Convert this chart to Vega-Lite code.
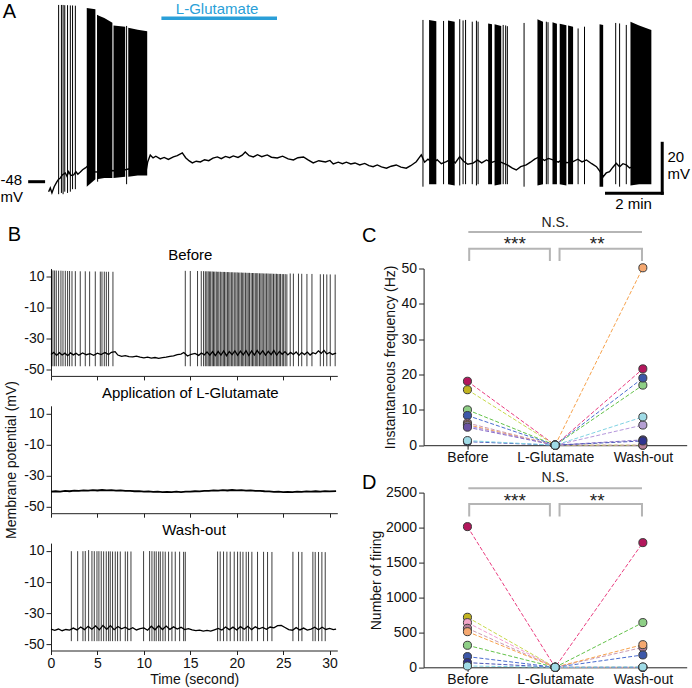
{
"$schema": "https://vega.github.io/schema/vega-lite/v6.json",
"padding": 0,
"background": "white",
"config": {
  "view": {"stroke": null},
  "font": "Liberation Sans",
  "axis": {"domainColor": "#222", "tickColor": "#222", "labelColor": "#111", "labelFontSize": 14, "titleFontSize": 14, "titleFontWeight": "normal", "titleColor": "#111", "grid": false, "labelFont": "Liberation Sans", "titleFont": "Liberation Sans", "tickSize": 5, "labelPadding": 2, "labelOverlap": false, "labelFlush": false},
  "text": {"font": "Liberation Sans"}
},
"datasets": {
  "aBase": [{"t":0.00,"v":-52.0},{"t":0.06,"v":-50.5},{"t":0.12,"v":-52.5},{"t":0.2,"v":-50.0},{"t":0.3,"v":-48.0},{"t":0.36,"v":-47.0},{"t":0.42,"v":-46.5},{"t":0.5,"v":-45.2},{"t":0.6,"v":-44.5},{"t":0.66,"v":-45.8},{"t":0.72,"v":-44.0},{"t":0.8,"v":-45.5},{"t":0.9,"v":-45.3},{"t":0.98,"v":-44.0},{"t":1.05,"v":-45.0},{"t":1.14,"v":-44.1},{"t":1.22,"v":-43.2},{"t":1.32,"v":-42.5},{"t":1.44,"v":-41.3},{"t":1.5,"v":-44},{"t":1.86,"v":-44.1},{"t":2.2,"v":-43.5},{"t":2.57,"v":-43.7},{"t":2.9,"v":-42.8},{"t":3.29,"v":-43.3},{"t":3.5,"v":-43.7},{"t":3.56,"v":-40.0},{"t":3.65,"v":-37.3},{"t":3.75,"v":-38.5},{"t":3.85,"v":-37.8},{"t":4.01,"v":-38.9},{"t":4.15,"v":-38.3},{"t":4.3,"v":-39.1},{"t":4.48,"v":-38.1},{"t":4.62,"v":-37.6},{"t":4.8,"v":-36.5},{"t":4.92,"v":-38.4},{"t":5.05,"v":-39.7},{"t":5.16,"v":-40.5},{"t":5.3,"v":-39.8},{"t":5.45,"v":-40.1},{"t":5.6,"v":-39.2},{"t":5.75,"v":-39.6},{"t":5.9,"v":-38.6},{"t":6.06,"v":-38.1},{"t":6.2,"v":-38.8},{"t":6.35,"v":-37.9},{"t":6.5,"v":-38.4},{"t":6.63,"v":-37.7},{"t":6.8,"v":-38.3},{"t":6.95,"v":-37.4},{"t":7.06,"v":-36.1},{"t":7.2,"v":-37.6},{"t":7.35,"v":-38.1},{"t":7.5,"v":-37.2},{"t":7.65,"v":-38.0},{"t":7.85,"v":-37.3},{"t":8.0,"v":-38.2},{"t":8.21,"v":-38.5},{"t":8.4,"v":-37.8},{"t":8.6,"v":-38.9},{"t":8.79,"v":-39.3},{"t":8.95,"v":-38.4},{"t":9.15,"v":-38.1},{"t":9.3,"v":-39.2},{"t":9.5,"v":-40.5},{"t":9.7,"v":-39.6},{"t":9.94,"v":-40.1},{"t":10.1,"v":-39.5},{"t":10.22,"v":-40.9},{"t":10.4,"v":-40.2},{"t":10.55,"v":-40.8},{"t":10.69,"v":-40.2},{"t":10.85,"v":-40.9},{"t":11.0,"v":-40.5},{"t":11.17,"v":-41.3},{"t":11.35,"v":-40.7},{"t":11.5,"v":-41.6},{"t":11.65,"v":-42.0},{"t":11.8,"v":-41.3},{"t":11.95,"v":-42.1},{"t":12.13,"v":-42.6},{"t":12.3,"v":-41.8},{"t":12.48,"v":-41.3},{"t":12.65,"v":-42.2},{"t":12.84,"v":-42.6},{"t":13.0,"v":-41.6},{"t":13.2,"v":-40.0},{"t":13.3,"v":-38.5},{"t":13.38,"v":-37.3},{"t":13.5,"v":-40.2},{"t":13.62,"v":-39.0},{"t":13.8,"v":-40.6},{"t":13.95,"v":-39.2},{"t":14.1,"v":-40.8},{"t":14.28,"v":-40.0},{"t":14.45,"v":-39.0},{"t":14.6,"v":-40.5},{"t":14.76,"v":-38.0},{"t":14.9,"v":-39.8},{"t":15.05,"v":-41.0},{"t":15.24,"v":-40.6},{"t":15.4,"v":-39.4},{"t":15.55,"v":-40.5},{"t":15.72,"v":-39.3},{"t":15.9,"v":-40.3},{"t":16.1,"v":-39.6},{"t":16.32,"v":-40.6},{"t":16.5,"v":-41.5},{"t":16.65,"v":-42.6},{"t":16.79,"v":-43.3},{"t":16.95,"v":-42.0},{"t":17.15,"v":-41.3},{"t":17.3,"v":-40.2},{"t":17.45,"v":-39.0},{"t":17.63,"v":-38.0},{"t":17.8,"v":-39.5},{"t":17.95,"v":-38.7},{"t":18.11,"v":-39.3},{"t":18.3,"v":-40.2},{"t":18.45,"v":-39.1},{"t":18.6,"v":-40.4},{"t":18.83,"v":-40.0},{"t":19.0,"v":-39.0},{"t":19.15,"v":-40.1},{"t":19.31,"v":-39.3},{"t":19.5,"v":-40.8},{"t":19.67,"v":-42.0},{"t":19.8,"v":-44.0},{"t":19.91,"v":-46.0},{"t":20.02,"v":-44.5},{"t":20.14,"v":-44.0},{"t":20.26,"v":-42.2},{"t":20.38,"v":-40.6},{"t":20.5,"v":-42.0},{"t":20.62,"v":-40.8},{"t":20.74,"v":-41.3},{"t":20.86,"v":-42.5},{"t":20.98,"v":-42.0},{"t":21.2,"v":-41.0},{"t":21.4,"v":-41.8},{"t":21.58,"v":-40.6}],
  "aSpk": [{"t":0.36,"hi":22.7,"lo":-53},{"t":0.46,"hi":22.7,"lo":-52.5},{"t":0.52,"hi":22.7,"lo":-53},{"t":0.58,"hi":22.6,"lo":-52},{"t":0.68,"hi":22.6,"lo":-52.5},{"t":0.78,"hi":22.5,"lo":-52},{"t":0.86,"hi":22.5,"lo":-51},{"t":0.96,"hi":22.4,"lo":-51},{"t":1.76,"hi":18.7,"lo":-48},{"t":2.8,"hi":14.3,"lo":-49},{"t":13.44,"hi":16.7,"lo":-50},{"t":14.18,"hi":16.3,"lo":-49},{"t":14.76,"hi":17.0,"lo":-49.5},{"t":14.88,"hi":16.5,"lo":-49},{"t":14.97,"hi":16.7,"lo":-49},{"t":15.21,"hi":16.0,"lo":-49},{"t":15.36,"hi":16.4,"lo":-49.5},{"t":15.42,"hi":16.0,"lo":-49},{"t":16.32,"hi":14.7,"lo":-49},{"t":16.41,"hi":14.5,"lo":-49},{"t":16.47,"hi":14.2,"lo":-49},{"t":17.07,"hi":15.5,"lo":-50},{"t":17.87,"hi":16.0,"lo":-49},{"t":17.93,"hi":15.8,"lo":-49},{"t":19.01,"hi":13.3,"lo":-49},{"t":19.24,"hi":14.0,"lo":-49},{"t":20.36,"hi":15.5,"lo":-49},{"t":20.5,"hi":15.3,"lo":-50},{"t":20.74,"hi":14.7,"lo":-49}],
  "aBlk": [{"b":"a1","t":1.37,"hi":21.5,"lo":-50},{"b":"a1","t":1.68,"hi":21.0,"lo":-47},{"b":"a2","t":1.74,"hi":18.7,"lo":-47},{"b":"a2","t":2.0,"hi":17.5,"lo":-46.5},{"b":"a2","t":2.29,"hi":15.6,"lo":-46.5},{"b":"a3","t":2.33,"hi":14.5,"lo":-46.5},{"b":"a3","t":2.75,"hi":14.0,"lo":-46},{"b":"a4","t":2.86,"hi":13.6,"lo":-46},{"b":"a4","t":3.2,"hi":12.8,"lo":-45.5},{"b":"a4","t":3.54,"hi":12.2,"lo":-45.5},{"b":"b1","t":13.66,"hi":16.7,"lo":-49},{"b":"b1","t":13.92,"hi":16.2,"lo":-49},{"b":"b2","t":14.34,"hi":16.5,"lo":-49},{"b":"b2","t":14.58,"hi":16.0,"lo":-49.5},{"b":"b3","t":15.78,"hi":15.3,"lo":-49},{"b":"b3","t":15.92,"hi":15.0,"lo":-49},{"b":"b4","t":16.01,"hi":15.0,"lo":-49.5},{"b":"b4","t":16.25,"hi":14.3,"lo":-49},{"b":"b5","t":17.55,"hi":17.0,"lo":-49.5},{"b":"b5","t":17.75,"hi":16.0,"lo":-49},{"b":"b6","t":18.09,"hi":15.8,"lo":-49},{"b":"b6","t":18.25,"hi":15.2,"lo":-49},{"b":"b7","t":18.35,"hi":15.2,"lo":-49},{"b":"b7","t":18.59,"hi":14.6,"lo":-49.5},{"b":"b8","t":18.65,"hi":14.5,"lo":-49},{"b":"b8","t":18.83,"hi":14.0,"lo":-49},{"b":"b9","t":19.78,"hi":15.0,"lo":-50},{"b":"b9","t":19.91,"hi":14.7,"lo":-50},{"b":"b10","t":20.89,"hi":16.0,"lo":-49.5},{"b":"b10","t":21.2,"hi":14.5,"lo":-49},{"b":"b10","t":21.64,"hi":12.7,"lo":-49}],
  "aBarsK": [{"t":20.03,"v":-52.64,"t2":22.03,"v2":-52.64},{"t":22.03,"v":-32.64,"t2":22.03,"v2":-52.64},{"t":-0.68,"v":-48,"t2":-0.18,"v2":-48}],
  "aBarsB": [{"t":4.05,"v":17.4,"t2":8.2,"v2":17.4}],
  "bBeforeBase": [{"t":0.0,"v":-40.2},{"t":0.3,"v":-38.9},{"t":0.6,"v":-40.8},{"t":0.9,"v":-39.1},{"t":1.2,"v":-40.6},{"t":1.5,"v":-39.4},{"t":1.8,"v":-41.0},{"t":2.1,"v":-39.2},{"t":2.4,"v":-40.5},{"t":2.7,"v":-39.5},{"t":3.0,"v":-40.7},{"t":3.4,"v":-39.3},{"t":3.8,"v":-40.4},{"t":4.2,"v":-39.7},{"t":4.6,"v":-40.8},{"t":5.0,"v":-39.4},{"t":5.4,"v":-40.3},{"t":5.8,"v":-39.0},{"t":6.2,"v":-40.2},{"t":6.5,"v":-38.8},{"t":6.9,"v":-38.4},{"t":7.2,"v":-40.6},{"t":7.6,"v":-41.5},{"t":8.0,"v":-41.0},{"t":8.4,"v":-41.6},{"t":8.8,"v":-41.8},{"t":9.2,"v":-41.3},{"t":9.6,"v":-42.0},{"t":10.0,"v":-42.4},{"t":10.4,"v":-41.9},{"t":10.8,"v":-42.6},{"t":11.2,"v":-42.2},{"t":11.6,"v":-42.7},{"t":12.0,"v":-42.3},{"t":12.4,"v":-42.0},{"t":12.8,"v":-41.4},{"t":13.2,"v":-41.2},{"t":13.6,"v":-40.3},{"t":14.0,"v":-40.0},{"t":14.3,"v":-39.0},{"t":14.7,"v":-41.2},{"t":15.1,"v":-40.1},{"t":15.5,"v":-39.6},{"t":15.9,"v":-40.8},{"t":16.2,"v":-39.3},{"t":16.5,"v":-40.5},{"t":16.8,"v":-38.6},{"t":17.1,"v":-40.7},{"t":17.4,"v":-38.4},{"t":17.7,"v":-40.9},{"t":18.0,"v":-38.2},{"t":18.3,"v":-40.6},{"t":18.6,"v":-38.0},{"t":18.9,"v":-41.0},{"t":19.2,"v":-38.3},{"t":19.5,"v":-40.4},{"t":19.8,"v":-37.9},{"t":20.1,"v":-40.8},{"t":20.4,"v":-38.1},{"t":20.7,"v":-40.5},{"t":21.0,"v":-37.8},{"t":21.3,"v":-40.9},{"t":21.6,"v":-38.0},{"t":21.9,"v":-40.6},{"t":22.2,"v":-37.6},{"t":22.5,"v":-40.2},{"t":22.8,"v":-37.9},{"t":23.1,"v":-40.7},{"t":23.4,"v":-38.2},{"t":23.7,"v":-40.4},{"t":24.0,"v":-37.7},{"t":24.3,"v":-40.6},{"t":24.6,"v":-38.3},{"t":24.9,"v":-40.1},{"t":25.2,"v":-38.4},{"t":25.5,"v":-40.5},{"t":25.8,"v":-38.9},{"t":26.1,"v":-40.2},{"t":26.4,"v":-38.6},{"t":26.7,"v":-40.8},{"t":27.0,"v":-39.0},{"t":27.3,"v":-40.3},{"t":27.6,"v":-38.7},{"t":27.9,"v":-40.6},{"t":28.2,"v":-39.1},{"t":28.5,"v":-39.8},{"t":28.8,"v":-37.9},{"t":29.1,"v":-39.5},{"t":29.4,"v":-37.6},{"t":29.7,"v":-39.9},{"t":30.0,"v":-38.9},{"t":30.3,"v":-40.2},{"t":30.7,"v":-39.4}],
  "bBeforeSpk": [{"t":0.05,"hi":13.8},{"t":0.21,"hi":13.8},{"t":0.39,"hi":13.7},{"t":0.57,"hi":13.7},{"t":0.82,"hi":13.6},{"t":1.07,"hi":13.6},{"t":1.29,"hi":13.5},{"t":1.54,"hi":13.5},{"t":1.79,"hi":13.4},{"t":2.0,"hi":13.4},{"t":2.26,"hi":13.3},{"t":2.62,"hi":13.3},{"t":3.15,"hi":13.2},{"t":3.69,"hi":13.2},{"t":4.16,"hi":13.1},{"t":4.77,"hi":13.1},{"t":5.31,"hi":13.0},{"t":5.49,"hi":13.0},{"t":5.74,"hi":13.0},{"t":5.96,"hi":12.9},{"t":6.2,"hi":12.9},{"t":6.67,"hi":12.9},{"t":14.46,"hi":13.5},{"t":15.0,"hi":13.4},{"t":15.78,"hi":13.4},{"t":16.18,"hi":13.3},{"t":16.43,"hi":13.3},{"t":16.62,"hi":13.2},{"t":16.78,"hi":13.2},{"t":16.93,"hi":13.2},{"t":17.08,"hi":13.1},{"t":17.2,"hi":13.1},{"t":17.36,"hi":13.1},{"t":17.5,"hi":13.0},{"t":17.64,"hi":13.0},{"t":17.8,"hi":13.0},{"t":17.95,"hi":12.9},{"t":18.08,"hi":12.9},{"t":18.24,"hi":12.9},{"t":18.4,"hi":12.8},{"t":18.55,"hi":12.8},{"t":18.68,"hi":12.8},{"t":18.84,"hi":12.7},{"t":19.0,"hi":12.7},{"t":19.14,"hi":12.7},{"t":19.28,"hi":12.6},{"t":19.45,"hi":12.6},{"t":19.58,"hi":12.6},{"t":19.74,"hi":12.5},{"t":19.9,"hi":12.5},{"t":20.05,"hi":12.5},{"t":20.18,"hi":12.4},{"t":20.34,"hi":12.4},{"t":20.5,"hi":12.4},{"t":20.64,"hi":12.3},{"t":20.78,"hi":12.3},{"t":20.95,"hi":12.3},{"t":21.1,"hi":12.2},{"t":21.24,"hi":12.2},{"t":21.38,"hi":12.2},{"t":21.55,"hi":12.1},{"t":21.7,"hi":12.1},{"t":21.84,"hi":12.1},{"t":22.0,"hi":12.0},{"t":22.15,"hi":12.0},{"t":22.28,"hi":12.0},{"t":22.45,"hi":11.9},{"t":22.6,"hi":11.9},{"t":22.74,"hi":11.9},{"t":22.9,"hi":11.8},{"t":23.05,"hi":11.8},{"t":23.2,"hi":11.8},{"t":23.36,"hi":11.8},{"t":23.5,"hi":11.7},{"t":23.66,"hi":11.7},{"t":23.8,"hi":11.7},{"t":23.96,"hi":11.6},{"t":24.12,"hi":11.6},{"t":24.28,"hi":11.6},{"t":24.42,"hi":11.5},{"t":24.58,"hi":11.5},{"t":24.72,"hi":11.5},{"t":24.9,"hi":11.4},{"t":25.05,"hi":11.4},{"t":25.22,"hi":11.4},{"t":25.4,"hi":11.3},{"t":25.76,"hi":11.8},{"t":26.1,"hi":11.7},{"t":26.65,"hi":11.7},{"t":27.0,"hi":11.6},{"t":27.56,"hi":11.5},{"t":28.1,"hi":11.5},{"t":29.0,"hi":11.3},{"t":29.35,"hi":11.3},{"t":29.7,"hi":11.2},{"t":30.07,"hi":11.2},{"t":30.6,"hi":11.1}],
  "bMidBase": [{"t":0.0,"v":-40.2},{"t":0.5,"v":-39.9},{"t":1.0,"v":-40.1},{"t":1.5,"v":-39.7},{"t":2.0,"v":-39.9},{"t":2.5,"v":-39.5},{"t":3.0,"v":-39.7},{"t":3.5,"v":-39.3},{"t":4.0,"v":-39.5},{"t":4.5,"v":-39.2},{"t":5.0,"v":-39.4},{"t":5.5,"v":-39.1},{"t":6.0,"v":-39.3},{"t":6.5,"v":-39.2},{"t":7.0,"v":-39.5},{"t":7.5,"v":-39.4},{"t":8.0,"v":-39.7},{"t":8.5,"v":-39.6},{"t":9.0,"v":-39.9},{"t":9.5,"v":-39.8},{"t":10.0,"v":-40.1},{"t":10.5,"v":-40.0},{"t":11.0,"v":-40.3},{"t":11.5,"v":-40.2},{"t":12.0,"v":-40.4},{"t":12.5,"v":-40.3},{"t":13.0,"v":-40.5},{"t":13.5,"v":-40.2},{"t":14.0,"v":-40.4},{"t":14.5,"v":-40.1},{"t":15.0,"v":-40.2},{"t":15.5,"v":-39.9},{"t":16.0,"v":-40.0},{"t":16.5,"v":-39.6},{"t":17.0,"v":-39.7},{"t":17.5,"v":-39.4},{"t":18.0,"v":-39.5},{"t":18.5,"v":-39.2},{"t":19.0,"v":-39.4},{"t":19.5,"v":-39.1},{"t":20.0,"v":-39.3},{"t":20.5,"v":-39.2},{"t":21.0,"v":-39.5},{"t":21.5,"v":-39.4},{"t":22.0,"v":-39.7},{"t":22.5,"v":-39.6},{"t":23.0,"v":-39.9},{"t":23.5,"v":-40.0},{"t":24.0,"v":-40.3},{"t":24.5,"v":-40.2},{"t":25.0,"v":-40.5},{"t":25.5,"v":-40.3},{"t":26.0,"v":-40.5},{"t":26.5,"v":-40.2},{"t":27.0,"v":-40.3},{"t":27.5,"v":-40.0},{"t":28.0,"v":-40.2},{"t":28.5,"v":-39.9},{"t":29.0,"v":-40.1},{"t":29.5,"v":-39.8},{"t":30.0,"v":-40.0},{"t":30.7,"v":-39.8}],
  "bWashBase": [{"t":0.0,"v":-40.3},{"t":0.4,"v":-41.0},{"t":0.8,"v":-40.2},{"t":1.2,"v":-41.3},{"t":1.6,"v":-40.5},{"t":2.0,"v":-40.9},{"t":2.4,"v":-39.6},{"t":2.8,"v":-40.8},{"t":3.2,"v":-38.9},{"t":3.6,"v":-40.6},{"t":4.0,"v":-38.5},{"t":4.4,"v":-40.3},{"t":4.8,"v":-38.2},{"t":5.2,"v":-40.7},{"t":5.6,"v":-37.9},{"t":6.0,"v":-40.4},{"t":6.4,"v":-38.0},{"t":6.8,"v":-40.6},{"t":7.2,"v":-38.6},{"t":7.6,"v":-40.1},{"t":8.0,"v":-39.0},{"t":8.4,"v":-40.5},{"t":8.8,"v":-39.4},{"t":9.2,"v":-40.8},{"t":9.6,"v":-40.0},{"t":10.0,"v":-39.5},{"t":10.4,"v":-41.0},{"t":10.8,"v":-38.4},{"t":11.2,"v":-40.7},{"t":11.6,"v":-38.1},{"t":12.0,"v":-40.5},{"t":12.4,"v":-38.3},{"t":12.8,"v":-40.4},{"t":13.2,"v":-38.8},{"t":13.6,"v":-40.2},{"t":14.0,"v":-39.1},{"t":14.4,"v":-40.6},{"t":14.8,"v":-40.0},{"t":15.2,"v":-40.8},{"t":15.6,"v":-41.2},{"t":16.0,"v":-40.9},{"t":16.4,"v":-41.5},{"t":16.8,"v":-41.1},{"t":17.2,"v":-41.6},{"t":17.6,"v":-40.7},{"t":18.0,"v":-39.8},{"t":18.4,"v":-40.9},{"t":18.8,"v":-38.9},{"t":19.2,"v":-40.6},{"t":19.6,"v":-39.0},{"t":20.0,"v":-40.8},{"t":20.4,"v":-38.7},{"t":20.8,"v":-40.3},{"t":21.2,"v":-38.5},{"t":21.6,"v":-40.6},{"t":22.0,"v":-38.8},{"t":22.4,"v":-40.1},{"t":22.8,"v":-39.2},{"t":23.2,"v":-40.4},{"t":23.6,"v":-38.9},{"t":24.0,"v":-39.4},{"t":24.4,"v":-38.0},{"t":24.8,"v":-37.9},{"t":25.2,"v":-39.2},{"t":25.6,"v":-40.6},{"t":26.0,"v":-41.0},{"t":26.4,"v":-39.3},{"t":26.8,"v":-40.8},{"t":27.2,"v":-39.6},{"t":27.6,"v":-40.9},{"t":28.0,"v":-40.2},{"t":28.4,"v":-39.0},{"t":28.8,"v":-40.7},{"t":29.2,"v":-39.1},{"t":29.6,"v":-40.5},{"t":30.0,"v":-39.8},{"t":30.4,"v":-40.6},{"t":30.7,"v":-40.2}],
  "bWashSpk": [{"t":2.19,"hi":9.8},{"t":2.87,"hi":9.8},{"t":3.44,"hi":9.8},{"t":3.69,"hi":9.9},{"t":4.05,"hi":10.5},{"t":4.41,"hi":9.9},{"t":4.66,"hi":9.8},{"t":4.95,"hi":9.8},{"t":5.16,"hi":9.8},{"t":5.41,"hi":9.8},{"t":5.67,"hi":9.7},{"t":5.95,"hi":9.7},{"t":6.2,"hi":9.7},{"t":6.38,"hi":9.7},{"t":6.63,"hi":9.6},{"t":6.92,"hi":9.6},{"t":7.17,"hi":9.6},{"t":7.46,"hi":9.6},{"t":8.0,"hi":9.6},{"t":8.25,"hi":9.6},{"t":8.61,"hi":9.6},{"t":9.97,"hi":9.8},{"t":10.62,"hi":9.9},{"t":10.87,"hi":9.8},{"t":11.12,"hi":9.7},{"t":11.33,"hi":9.7},{"t":11.59,"hi":9.6},{"t":11.77,"hi":9.6},{"t":12.05,"hi":9.6},{"t":12.3,"hi":9.5},{"t":12.66,"hi":9.5},{"t":13.02,"hi":9.5},{"t":13.38,"hi":9.5},{"t":13.85,"hi":9.5},{"t":14.28,"hi":9.4},{"t":14.46,"hi":9.4},{"t":17.94,"hi":9.6},{"t":18.22,"hi":9.6},{"t":18.58,"hi":9.6},{"t":18.94,"hi":9.5},{"t":19.3,"hi":9.5},{"t":19.73,"hi":9.5},{"t":20.09,"hi":9.5},{"t":20.38,"hi":9.5},{"t":20.67,"hi":9.4},{"t":21.02,"hi":9.4},{"t":21.27,"hi":9.4},{"t":21.63,"hi":9.4},{"t":22.24,"hi":9.4},{"t":22.89,"hi":9.4},{"t":23.32,"hi":9.3},{"t":23.79,"hi":9.3},{"t":26.05,"hi":9.4},{"t":26.66,"hi":9.4},{"t":27.02,"hi":9.3},{"t":28.2,"hi":9.4},{"t":28.45,"hi":9.3},{"t":28.81,"hi":9.3},{"t":29.17,"hi":9.3},{"t":29.53,"hi":9.2}],
  "cPts": [{"s":"s1","c":0,"v":18.1},{"s":"s1","c":1,"v":0},{"s":"s1","c":2,"v":21.6},{"s":"s2","c":0,"v":15.7},{"s":"s2","c":1,"v":0},{"s":"s2","c":2,"v":0},{"s":"s3","c":0,"v":10.0},{"s":"s3","c":1,"v":0},{"s":"s3","c":2,"v":17.0},{"s":"s4","c":0,"v":8.4},{"s":"s4","c":1,"v":0},{"s":"s4","c":2,"v":19.0},{"s":"s5","c":0,"v":6.3},{"s":"s5","c":1,"v":0},{"s":"s5","c":2,"v":0},{"s":"s6","c":0,"v":5.8},{"s":"s6","c":1,"v":0},{"s":"s6","c":2,"v":50.2},{"s":"s11","c":0,"v":5.5},{"s":"s11","c":1,"v":0},{"s":"s11","c":2,"v":5.7},{"s":"s7","c":0,"v":5.1},{"s":"s7","c":1,"v":0},{"s":"s7","c":2,"v":1.5},{"s":"s10","c":0,"v":1.0},{"s":"s10","c":1,"v":0},{"s":"s10","c":2,"v":1.2},{"s":"s8","c":0,"v":1.3},{"s":"s8","c":1,"v":0},{"s":"s8","c":2,"v":8.0}],
  "dPts": [{"s":"s1","c":0,"v":2013},{"s":"s1","c":1,"v":0},{"s":"s1","c":2,"v":1784},{"s":"s2","c":0,"v":716},{"s":"s2","c":1,"v":0},{"s":"s2","c":2,"v":0},{"s":"s9","c":0,"v":639},{"s":"s9","c":1,"v":0},{"s":"s9","c":2,"v":0},{"s":"s5","c":0,"v":558},{"s":"s5","c":1,"v":0},{"s":"s5","c":2,"v":285},{"s":"s6","c":0,"v":510},{"s":"s6","c":1,"v":0},{"s":"s6","c":2,"v":324},{"s":"s3","c":0,"v":315},{"s":"s3","c":1,"v":0},{"s":"s3","c":2,"v":640},{"s":"s4","c":0,"v":153},{"s":"s4","c":1,"v":0},{"s":"s4","c":2,"v":177},{"s":"s10","c":0,"v":67},{"s":"s10","c":1,"v":0},{"s":"s10","c":2,"v":0},{"s":"s8","c":0,"v":19},{"s":"s8","c":1,"v":0},{"s":"s8","c":2,"v":5}],
  "cBr": [{"b":"ns","c":0.01,"v":60.3,"o":1},{"b":"ns","c":1.99,"v":60.3,"o":2},{"b":"b1","c":0.02,"v":52.1,"o":1},{"b":"b1","c":0.02,"v":55.6,"o":2},{"b":"b1","c":0.94,"v":55.6,"o":3},{"b":"b1","c":0.94,"v":52.1,"o":4},{"b":"b2","c":1.05,"v":52.1,"o":1},{"b":"b2","c":1.05,"v":55.6,"o":2},{"b":"b2","c":1.99,"v":55.6,"o":3},{"b":"b2","c":1.99,"v":52.1,"o":4}],
  "dBr": [{"b":"ns","c":0.01,"v":2562,"o":1},{"b":"ns","c":1.99,"v":2562,"o":2},{"b":"b1","c":0.02,"v":2157,"o":1},{"b":"b1","c":0.02,"v":2337,"o":2},{"b":"b1","c":0.94,"v":2337,"o":3},{"b":"b1","c":0.94,"v":2157,"o":4},{"b":"b2","c":1.05,"v":2157,"o":1},{"b":"b2","c":1.05,"v":2337,"o":2},{"b":"b2","c":1.99,"v":2337,"o":3},{"b":"b2","c":1.99,"v":2157,"o":4}]
},
"spacing": 2.5,
"vconcat": [
 {
  "width": 641.3, "height": 212,
  "layer": [
   {"data": {"name": "aBase"}, "mark": {"type": "line", "color": "#000", "strokeWidth": 1.4},
    "encoding": {"x": {"field": "t", "type": "quantitative", "scale": {"domain": [0.086, 23.11], "nice": false, "zero": false}, "axis": null},
                 "y": {"field": "v", "type": "quantitative", "scale": {"domain": [-60.12, 24.68], "nice": false, "zero": false}, "axis": null}}},
   {"data": {"name": "aSpk"}, "mark": {"type": "rule", "color": "#000", "strokeWidth": 1},
    "encoding": {"x": {"field": "t", "type": "quantitative"}, "y": {"field": "lo", "type": "quantitative"}, "y2": {"field": "hi"}}},
   {"data": {"name": "aBlk"}, "mark": {"type": "area", "color": "#000", "opacity": 1},
    "encoding": {"x": {"field": "t", "type": "quantitative"}, "y": {"field": "lo", "type": "quantitative"}, "y2": {"field": "hi"}, "detail": {"field": "b", "type": "nominal"}}},
   {"data": {"name": "aBarsK"}, "mark": {"type": "rule", "color": "#000", "strokeWidth": 3, "strokeCap": "square"},
    "encoding": {"x": {"field": "t", "type": "quantitative"}, "y": {"field": "v", "type": "quantitative"}, "x2": {"field": "t2"}, "y2": {"field": "v2"}}},
   {"data": {"name": "aBarsB"}, "mark": {"type": "rule", "color": "#2a9fd8", "strokeWidth": 3.5},
    "encoding": {"x": {"field": "t", "type": "quantitative"}, "y": {"field": "v", "type": "quantitative"}, "x2": {"field": "t2"}, "y2": {"field": "v2"}}},
   {"data": {"values": [{"t": -1.41, "v": 19.7, "txt": "A"}]}, "mark": {"type": "text", "fontSize": 20, "color": "#000"},
    "encoding": {"x": {"field": "t", "type": "quantitative"}, "y": {"field": "v", "type": "quantitative"}, "text": {"field": "txt", "type": "nominal"}}},
   {"data": {"values": [{"t": 6.05, "v": 21.1, "txt": "L-Glutamate"}]}, "mark": {"type": "text", "fontSize": 15, "color": "#2a9fd8"},
    "encoding": {"x": {"field": "t", "type": "quantitative"}, "y": {"field": "v", "type": "quantitative"}, "text": {"field": "txt", "type": "nominal"}}},
   {"data": {"values": [{"t": -1.73, "v": -47.3, "txt": "-48"}, {"t": -1.73, "v": -54.0, "txt": "mV"}, {"t": 22.22, "v": -38.0, "txt": "20"}, {"t": 22.22, "v": -44.9, "txt": "mV"}]}, "mark": {"type": "text", "fontSize": 15, "align": "left", "color": "#000"},
    "encoding": {"x": {"field": "t", "type": "quantitative"}, "y": {"field": "v", "type": "quantitative"}, "text": {"field": "txt", "type": "nominal"}}},
   {"data": {"values": [{"t": 21.0, "v": -57.0, "txt": "2 min"}]}, "mark": {"type": "text", "fontSize": 15, "color": "#000"},
    "encoding": {"x": {"field": "t", "type": "quantitative"}, "y": {"field": "v", "type": "quantitative"}, "text": {"field": "txt", "type": "nominal"}}}
  ]
 },
 {
  "bounds": "flush",
  "spacing": 372.6,
  "hconcat": [
   {
    "bounds": "flush",
    "spacing": 29.3,
    "vconcat": [
     {
      "width": 286.3, "height": 107.4,
      "layer": [
       {"data": {"name": "bBeforeBase"}, "mark": {"type": "line", "color": "#000", "strokeWidth": 1.3},
        "encoding": {"x": {"field": "t", "type": "quantitative", "scale": {"domain": [0, 30.83], "nice": false, "zero": false}, "axis": {"values": [0,5,10,15,20,25,30], "tickCount": 20, "labels": false, "title": null, "tickSize": 4}},
                     "y": {"field": "v", "type": "quantitative", "scale": {"domain": [-54, 15], "nice": false, "zero": false}, "axis": {"values": [10,-10,-30,-50], "tickCount": 20, "labelExpr": "'' + datum.value", "title": null, "labelOverlap": false}}}},
       {"data": {"name": "bBeforeSpk"}, "mark": {"type": "rule", "color": "#000", "strokeWidth": 0.9, "opacity": 0.85},
        "encoding": {"x": {"field": "t", "type": "quantitative"}, "y": {"field": "hi", "type": "quantitative"}, "y2": {"datum": -47.8}}},
       {"data": {"values": [{"t": 15.0, "v": 23.9, "txt": "Before"}]}, "mark": {"type": "text", "fontSize": 15, "color": "#000"},
        "encoding": {"x": {"field": "t", "type": "quantitative"}, "y": {"field": "v", "type": "quantitative"}, "text": {"field": "txt", "type": "nominal"}}},
       {"data": {"values": [{"t": -3.95, "v": 36.7, "txt": "B"}]}, "mark": {"type": "text", "fontSize": 20, "color": "#000"},
        "encoding": {"x": {"field": "t", "type": "quantitative"}, "y": {"field": "v", "type": "quantitative"}, "text": {"field": "txt", "type": "nominal"}}}
      ]
     },
     {
      "width": 286.3, "height": 107.4,
      "layer": [
       {"data": {"name": "bMidBase"}, "mark": {"type": "line", "color": "#000", "strokeWidth": 1.8},
        "encoding": {"x": {"field": "t", "type": "quantitative", "scale": {"domain": [0, 30.83], "nice": false, "zero": false}, "axis": {"values": [0,5,10,15,20,25,30], "tickCount": 20, "labels": false, "title": null, "tickSize": 4}},
                     "y": {"field": "v", "type": "quantitative", "scale": {"domain": [-54, 15], "nice": false, "zero": false}, "axis": {"values": [10,-10,-30,-50], "tickCount": 20, "labelExpr": "'' + datum.value", "labelOverlap": false, "title": "Membrane potential (mV)", "titlePadding": 5}}}},
       {"data": {"values": [{"t": 15.0, "v": 23.5, "txt": "Application of L-Glutamate"}]}, "mark": {"type": "text", "fontSize": 15, "color": "#000"},
        "encoding": {"x": {"field": "t", "type": "quantitative"}, "y": {"field": "v", "type": "quantitative"}, "text": {"field": "txt", "type": "nominal"}}}
      ]
     },
     {
      "width": 286.3, "height": 107.4,
      "layer": [
       {"data": {"name": "bWashBase"}, "mark": {"type": "line", "color": "#000", "strokeWidth": 1.3},
        "encoding": {"x": {"field": "t", "type": "quantitative", "scale": {"domain": [0, 30.83], "nice": false, "zero": false}, "axis": {"values": [0,5,10,15,20,25,30], "tickCount": 20, "labelOverlap": false, "title": "Time (second)", "tickSize": 4, "titlePadding": 2}},
                     "y": {"field": "v", "type": "quantitative", "scale": {"domain": [-54, 15], "nice": false, "zero": false}, "axis": {"values": [10,-10,-30,-50], "tickCount": 20, "labelExpr": "'' + datum.value", "labelOverlap": false, "title": null}}}},
       {"data": {"name": "bWashSpk"}, "mark": {"type": "rule", "color": "#000", "strokeWidth": 0.9, "opacity": 0.85},
        "encoding": {"x": {"field": "t", "type": "quantitative"}, "y": {"field": "hi", "type": "quantitative"}, "y2": {"datum": -48}}},
       {"data": {"values": [{"t": 15.4, "v": 23.5, "txt": "Wash-out"}]}, "mark": {"type": "text", "fontSize": 15, "color": "#000"},
        "encoding": {"x": {"field": "t", "type": "quantitative"}, "y": {"field": "v", "type": "quantitative"}, "text": {"field": "txt", "type": "nominal"}}}
      ]
     }
    ]
   },
   {
    "bounds": "flush",
    "spacing": 47.1,
    "vconcat": [
     {
      "width": 263.1, "height": 176.7,
      "layer": [
       {"data": {"name": "cPts"}, "mark": {"type": "line", "strokeWidth": 1, "strokeDash": [4, 2]},
        "encoding": {"x": {"field": "c", "type": "quantitative", "scale": {"domain": [-0.5, 2.5], "nice": false, "zero": false}, "axis": {"values": [0,1,2], "tickCount": 20, "labelOverlap": false, "tickSize": 4, "labelPadding": 1, "labelExpr": "datum.value == 0 ? 'Before' : datum.value == 1 ? 'L-Glutamate' : 'Wash-out'", "title": null}},
                     "y": {"field": "v", "type": "quantitative", "scale": {"domain": [0, 50], "nice": false}, "axis": {"values": [0,10,20,30,40,50], "tickCount": 20, "labelOverlap": false, "format": "d", "title": "Instantaneous frequency (Hz)", "titlePadding": 4}},
                     "stroke": {"field": "s", "type": "nominal", "legend": null, "scale": {"domain": ["s1","s2","s3","s4","s5","s6","s7","s8","s9","s10","s11"], "range": ["#ea3d80","#c8da4e","#63c24a","#4a6cd0","#c99ab4","#f7a24c","#8a6fc9","#7fd3e3","#f29bd0","#4a55b8","#b597dc"]}},
                     "detail": {"field": "s", "type": "nominal"}}},
       {"data": {"name": "cPts"}, "mark": {"type": "point", "filled": true, "size": 65, "stroke": "#3a3a3a", "strokeWidth": 1, "opacity": 1},
        "encoding": {"x": {"field": "c", "type": "quantitative"}, "y": {"field": "v", "type": "quantitative"},
                     "fill": {"field": "s", "type": "nominal", "legend": null, "scale": {"domain": ["s1","s2","s3","s4","s5","s6","s7","s8","s9","s10","s11"], "range": ["#b3175c","#c2b420","#8ecf86","#3c57a8","#b67e98","#f5a870","#6a52a2","#9fdbe6","#f3a6c9","#2f338f","#b59fd3"]}}}},
       {"data": {"name": "cBr"}, "mark": {"type": "line", "color": "#b5b5b5", "strokeWidth": 2},
        "encoding": {"x": {"field": "c", "type": "quantitative"}, "y": {"field": "v", "type": "quantitative"}, "detail": {"field": "b", "type": "nominal"}, "order": {"field": "o", "type": "quantitative"}}},
       {"data": {"values": [{"c": 1.0, "v": 63.0, "txt": "N.S."}]}, "mark": {"type": "text", "fontSize": 14, "color": "#222"},
        "encoding": {"x": {"field": "c", "type": "quantitative"}, "y": {"field": "v", "type": "quantitative"}, "text": {"field": "txt", "type": "nominal"}}},
       {"data": {"values": [{"c": 0.54, "v": 55.2, "txt": "***"}, {"c": 1.48, "v": 55.2, "txt": "**"}]}, "mark": {"type": "text", "fontSize": 19, "baseline": "alphabetic", "color": "#222"},
        "encoding": {"x": {"field": "c", "type": "quantitative"}, "y": {"field": "v", "type": "quantitative"}, "text": {"field": "txt", "type": "nominal"}}},
       {"data": {"values": [{"c": -1.12, "v": 59.1, "txt": "C"}]}, "mark": {"type": "text", "fontSize": 20, "color": "#000"},
        "encoding": {"x": {"field": "c", "type": "quantitative"}, "y": {"field": "v", "type": "quantitative"}, "text": {"field": "txt", "type": "nominal"}}}
      ]
     },
     {
      "width": 263.1, "height": 174.7,
      "layer": [
       {"data": {"name": "dPts"}, "mark": {"type": "line", "strokeWidth": 1, "strokeDash": [4, 2]},
        "encoding": {"x": {"field": "c", "type": "quantitative", "scale": {"domain": [-0.5, 2.5], "nice": false, "zero": false}, "axis": {"values": [0,1,2], "tickCount": 20, "labelOverlap": false, "tickSize": 4, "labelPadding": 1, "labelExpr": "datum.value == 0 ? 'Before' : datum.value == 1 ? 'L-Glutamate' : 'Wash-out'", "title": null}},
                     "y": {"field": "v", "type": "quantitative", "scale": {"domain": [0, 2500], "nice": false}, "axis": {"values": [0,500,1000,1500,2000,2500], "tickCount": 20, "labelOverlap": false, "format": "d", "title": "Number of firing", "titlePadding": 2}},
                     "stroke": {"field": "s", "type": "nominal", "legend": null, "scale": {"domain": ["s1","s2","s3","s4","s5","s6","s7","s8","s9","s10","s11"], "range": ["#ea3d80","#c8da4e","#63c24a","#4a6cd0","#c99ab4","#f7a24c","#8a6fc9","#7fd3e3","#f29bd0","#4a55b8","#b597dc"]}},
                     "detail": {"field": "s", "type": "nominal"}}},
       {"data": {"name": "dPts"}, "mark": {"type": "point", "filled": true, "size": 65, "stroke": "#3a3a3a", "strokeWidth": 1, "opacity": 1},
        "encoding": {"x": {"field": "c", "type": "quantitative"}, "y": {"field": "v", "type": "quantitative"},
                     "fill": {"field": "s", "type": "nominal", "legend": null, "scale": {"domain": ["s1","s2","s3","s4","s5","s6","s7","s8","s9","s10","s11"], "range": ["#b3175c","#c2b420","#8ecf86","#3c57a8","#b67e98","#f5a870","#6a52a2","#9fdbe6","#f3a6c9","#2f338f","#b59fd3"]}}}},
       {"data": {"name": "dBr"}, "mark": {"type": "line", "color": "#b5b5b5", "strokeWidth": 2},
        "encoding": {"x": {"field": "c", "type": "quantitative"}, "y": {"field": "v", "type": "quantitative"}, "detail": {"field": "b", "type": "nominal"}, "order": {"field": "o", "type": "quantitative"}}},
       {"data": {"values": [{"c": 1.0, "v": 2705, "txt": "N.S."}]}, "mark": {"type": "text", "fontSize": 14, "color": "#222"},
        "encoding": {"x": {"field": "c", "type": "quantitative"}, "y": {"field": "v", "type": "quantitative"}, "text": {"field": "txt", "type": "nominal"}}},
       {"data": {"values": [{"c": 0.54, "v": 2290, "txt": "***"}, {"c": 1.48, "v": 2290, "txt": "**"}]}, "mark": {"type": "text", "fontSize": 19, "baseline": "alphabetic", "color": "#222"},
        "encoding": {"x": {"field": "c", "type": "quantitative"}, "y": {"field": "v", "type": "quantitative"}, "text": {"field": "txt", "type": "nominal"}}},
       {"data": {"values": [{"c": -1.12, "v": 2633, "txt": "D"}]}, "mark": {"type": "text", "fontSize": 20, "color": "#000"},
        "encoding": {"x": {"field": "c", "type": "quantitative"}, "y": {"field": "v", "type": "quantitative"}, "text": {"field": "txt", "type": "nominal"}}}
      ]
     }
    ]
   }
  ]
 }
]
}
